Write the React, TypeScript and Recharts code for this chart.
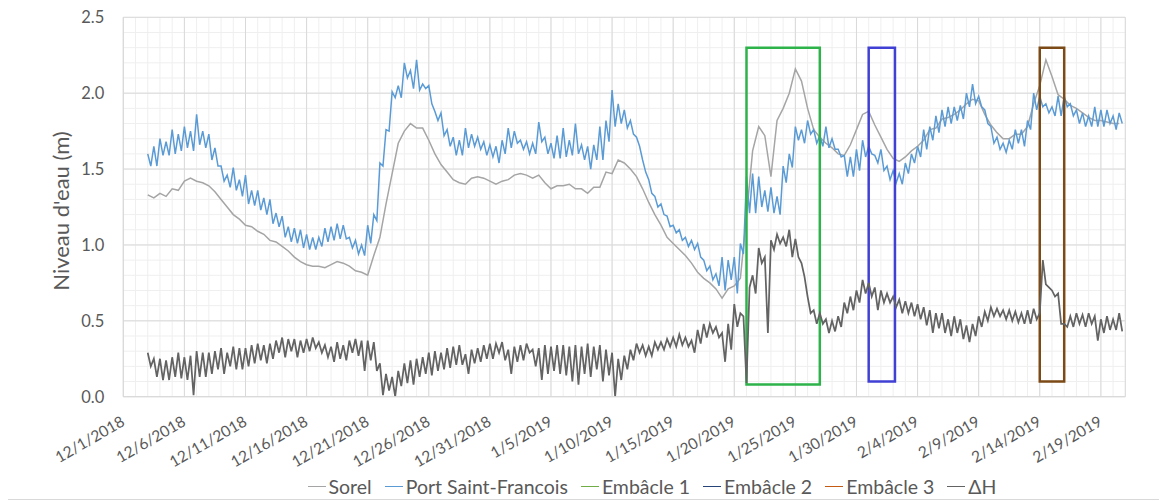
import React from 'react';
import { LineChart, Line, XAxis, YAxis, CartesianGrid, ReferenceLine } from 'recharts';

// Port Saint-Francois, every 6 h starting 12/3/2018 (day 2 after 12/1)
const portA = [
  1.60, 1.52, 1.65, 1.52, 1.70, 1.59, 1.68, 1.59, 1.76, 1.60, 1.73, 1.62, 1.78, 1.64, 1.75, 1.62,
  1.86, 1.66, 1.75, 1.64, 1.73, 1.56, 1.64, 1.52, 1.52, 1.42, 1.46, 1.38, 1.51, 1.36, 1.43, 1.32,
  1.46, 1.27, 1.36, 1.26, 1.36, 1.23, 1.31, 1.20, 1.30, 1.14, 1.21, 1.12, 1.19, 1.05, 1.12, 1.02,
  1.11, 1.01, 1.10, 0.98, 1.07, 0.97, 1.05, 0.97, 1.05, 0.99, 1.11, 1.02, 1.12, 1.03, 1.14, 1.04,
  1.13, 1.04, 1.05, 0.98, 1.03, 0.94, 1.00, 0.93, 1.13, 1.01, 1.20, 1.16, 1.54, 1.52, 1.76, 1.75,
];
const portB = [
  2.01, 1.97, 2.05, 1.97, 2.20, 2.10, 2.15, 2.03, 2.22, 2.02, 2.06, 2.03, 2.05, 1.93, 1.88, 1.82,
  1.87, 1.72, 1.76, 1.65, 1.71, 1.59, 1.69, 1.59, 1.77, 1.64, 1.73, 1.65, 1.71, 1.63, 1.68, 1.59,
  1.66, 1.58, 1.65, 1.54, 1.69, 1.60, 1.77, 1.64, 1.75, 1.67, 1.69, 1.63, 1.68, 1.60, 1.67, 1.60,
  1.81, 1.68, 1.71, 1.60, 1.67, 1.57, 1.72, 1.57, 1.77, 1.58, 1.69, 1.59, 1.80, 1.60, 1.66, 1.56,
  1.65, 1.50, 1.66, 1.56, 1.78, 1.56, 1.82, 1.68, 2.02, 1.78, 1.93, 1.80, 1.89, 1.77, 1.82, 1.73,
];
const portC = [
  1.71, 1.65, 1.56, 1.48, 1.43, 1.34, 1.32, 1.25, 1.27, 1.20, 1.19, 1.12, 1.13, 1.08, 1.10, 1.03,
  1.05, 0.99, 1.03, 0.97, 1.01, 0.92, 0.90, 0.83, 0.86, 0.77, 0.81, 0.73, 0.92, 0.70, 0.90, 0.77,
  0.92, 0.68, 1.01, 0.94, 1.45, 1.21, 1.47, 1.21, 1.45, 1.25, 1.36, 1.22, 1.38, 1.21, 1.32, 1.20,
  1.52, 1.41, 1.60, 1.51, 1.78, 1.69, 1.76, 1.67, 1.82, 1.73, 1.76, 1.67, 1.72, 1.65, 1.78, 1.64,
  1.70, 1.63, 1.63, 1.58, 1.59, 1.45, 1.58, 1.45, 1.63, 1.49, 1.69, 1.58, 1.65, 1.60, 1.59, 1.54,
];
const portD = [
  1.63, 1.49, 1.52, 1.43, 1.49, 1.41, 1.47, 1.40, 1.54, 1.47, 1.60, 1.54, 1.65, 1.58, 1.76, 1.63,
  1.78, 1.69, 1.85, 1.74, 1.89, 1.78, 1.91, 1.80, 1.91, 1.82, 1.92, 1.83, 2.00, 1.91, 2.06, 1.93,
  1.98, 1.91, 1.89, 1.80, 1.78, 1.67, 1.71, 1.63, 1.67, 1.61, 1.69, 1.63, 1.76, 1.67, 1.76, 1.65,
  1.82, 1.76, 2.00, 1.89, 1.98, 1.91, 1.93, 1.87, 1.91, 1.85, 1.98, 1.85, 1.98, 1.91, 1.93, 1.85,
  1.89, 1.80, 1.87, 1.78, 1.85, 1.78, 1.91, 1.78, 1.89, 1.78, 1.89, 1.80, 1.85, 1.76, 1.87, 1.80,
];

// Sorel, every 12 h starting 12/3/2018
const sorelA = [
  1.33, 1.31, 1.34, 1.32, 1.37, 1.36, 1.42, 1.44, 1.42, 1.41, 1.39, 1.35, 1.30, 1.25, 1.20, 1.17,
  1.13, 1.12, 1.09, 1.07, 1.03, 1.02, 0.99, 0.96, 0.92, 0.89, 0.87, 0.86, 0.86, 0.85, 0.87, 0.89,
  0.88, 0.86, 0.83, 0.82, 0.80, 0.93, 1.05, 1.27,
];
const sorelB = [
  1.47, 1.67, 1.75, 1.80, 1.77, 1.77, 1.69, 1.60, 1.53, 1.48, 1.43, 1.41, 1.40, 1.44, 1.45, 1.44,
  1.42, 1.40, 1.42, 1.43, 1.46, 1.47, 1.46, 1.44, 1.46, 1.41, 1.37, 1.39, 1.39, 1.40, 1.37, 1.37,
  1.34, 1.38, 1.38, 1.48, 1.47, 1.56, 1.54, 1.50,
];
const sorelC = [
  1.45, 1.37, 1.28, 1.20, 1.13, 1.05, 1.01, 0.97, 0.93, 0.88, 0.82, 0.78, 0.75, 0.71, 0.65, 0.71,
  0.73, 0.78, 1.19, 1.62, 1.78, 1.72, 1.45, 1.82, 1.90, 2.00, 2.16, 2.08, 1.90, 1.76, 1.71, 1.67,
  1.64, 1.60, 1.59, 1.66, 1.76, 1.86, 1.88, 1.79,
];
const sorelD = [
  1.71, 1.63, 1.57, 1.55, 1.58, 1.62, 1.65, 1.69, 1.76, 1.77, 1.83, 1.84, 1.86, 1.89, 1.93, 1.96,
  1.95, 1.86, 1.79, 1.74, 1.70, 1.70, 1.73, 1.73, 1.78, 1.93, 2.05, 2.22, 2.11, 1.99, 1.96, 1.92,
  1.90, 1.87, 1.84, 1.82, 1.82, 1.81, 1.80, 1.80,
];

// ΔH, every 6 h starting 12/3/2018
const deltaA = [
  0.29, 0.20, 0.25, 0.13, 0.25, 0.11, 0.24, 0.11, 0.26, 0.13, 0.29, 0.12, 0.26, 0.11, 0.27, 0.01,
  0.30, 0.13, 0.29, 0.13, 0.29, 0.15, 0.30, 0.18, 0.32, 0.15, 0.29, 0.20, 0.33, 0.18, 0.32, 0.18,
  0.32, 0.20, 0.34, 0.22, 0.35, 0.24, 0.34, 0.22, 0.35, 0.25, 0.37, 0.29, 0.39, 0.26, 0.38, 0.30,
  0.38, 0.26, 0.37, 0.29, 0.38, 0.30, 0.39, 0.32, 0.36, 0.29, 0.34, 0.26, 0.33, 0.23, 0.36, 0.25,
  0.34, 0.24, 0.37, 0.29, 0.38, 0.27, 0.37, 0.17, 0.37, 0.24, 0.36, 0.17, 0.22, 0.01, 0.15, 0.04,
];
const deltaB = [
  0.13, 0.00, 0.17, 0.07, 0.22, 0.09, 0.24, 0.08, 0.25, 0.13, 0.26, 0.15, 0.29, 0.14, 0.30, 0.17,
  0.29, 0.18, 0.32, 0.19, 0.33, 0.21, 0.34, 0.21, 0.28, 0.15, 0.31, 0.22, 0.32, 0.23, 0.34, 0.25,
  0.35, 0.25, 0.35, 0.29, 0.36, 0.24, 0.31, 0.15, 0.33, 0.23, 0.34, 0.24, 0.35, 0.29, 0.31, 0.20,
  0.32, 0.11, 0.34, 0.15, 0.33, 0.17, 0.34, 0.15, 0.34, 0.14, 0.33, 0.10, 0.34, 0.08, 0.33, 0.15,
  0.35, 0.13, 0.33, 0.18, 0.34, 0.10, 0.31, 0.14, 0.29, 0.00, 0.25, 0.11, 0.27, 0.18, 0.31, 0.24,
];
const deltaC = [
  0.35, 0.29, 0.34, 0.27, 0.33, 0.27, 0.36, 0.31, 0.36, 0.31, 0.38, 0.33, 0.39, 0.33, 0.41, 0.34,
  0.39, 0.33, 0.37, 0.29, 0.44, 0.35, 0.48, 0.39, 0.48, 0.42, 0.46, 0.39, 0.42, 0.23, 0.48, 0.31,
  0.61, 0.46, 0.55, 0.53, 0.09, 0.72, 0.80, 0.68, 0.98, 0.88, 0.92, 0.42, 1.03, 0.97, 1.07, 1.01,
  1.05, 0.99, 1.10, 0.92, 1.04, 0.92, 0.88, 0.79, 0.66, 0.55, 0.57, 0.48, 0.55, 0.48, 0.51, 0.42,
  0.50, 0.43, 0.53, 0.46, 0.62, 0.55, 0.66, 0.57, 0.70, 0.62, 0.77, 0.68, 0.75, 0.66, 0.72, 0.57,
];
const deltaD = [
  0.70, 0.62, 0.68, 0.62, 0.66, 0.59, 0.64, 0.55, 0.63, 0.55, 0.62, 0.53, 0.61, 0.51, 0.59, 0.47,
  0.57, 0.42, 0.55, 0.45, 0.55, 0.42, 0.51, 0.40, 0.53, 0.42, 0.51, 0.38, 0.47, 0.36, 0.48, 0.40,
  0.53, 0.46, 0.56, 0.50, 0.59, 0.53, 0.58, 0.53, 0.57, 0.51, 0.57, 0.50, 0.56, 0.49, 0.55, 0.48,
  0.57, 0.48, 0.58, 0.51, 0.55, 0.90, 0.74, 0.72, 0.70, 0.66, 0.68, 0.48, 0.48, 0.46, 0.53, 0.46,
  0.55, 0.48, 0.54, 0.46, 0.55, 0.48, 0.53, 0.37, 0.51, 0.42, 0.53, 0.44, 0.51, 0.44, 0.55, 0.43,
];

// ice jam windows: [start day, end day], [bottom, top] in metres
const embacle1Days = [51, 57];
const embacle1Levels = [0.08, 2.3];
const embacle2Days = [61, 63.15];
const embacle2Levels = [0.1, 2.3];
const embacle3Days = [75, 77];
const embacle3Levels = [0.1, 2.3];

const dateLabels = [
  '12/1/2018', '12/6/2018', '12/11/2018', '12/16/2018', '12/21/2018', '12/26/2018',
  '12/31/2018', '1/5/2019', '1/10/2019', '1/15/2019', '1/20/2019', '1/25/2019',
  '1/30/2019', '2/4/2019', '2/9/2019', '2/14/2019', '2/19/2019',
];
const majorDays = [0, 5, 10, 15, 20, 25, 30, 35, 40, 45, 50, 55, 60, 65, 70, 75, 80];
const levelTicks = [0, 0.5, 1, 1.5, 2, 2.5];
const minorDays = Array.from({ length: 83 }, (_, i) => i);
const minorLevels = Array.from({ length: 26 }, (_, i) => i / 10);

const FIRST_DAY = 2;

const toSeries = (values: number[], step: number) =>
  values.map((v, i) => ({ day: FIRST_DAY + i * step, v }));

const box = (days: number[], levels: number[]) => [
  { day: days[0], v: levels[0] },
  { day: days[0], v: levels[1] },
  { day: days[1], v: levels[1] },
  { day: days[1], v: levels[0] },
  { day: days[0], v: levels[0] },
];

const portData = toSeries([...portA, ...portB, ...portC, ...portD], 0.25);
const sorelData = toSeries([...sorelA, ...sorelB, ...sorelC, ...sorelD], 0.5);
const deltaData = toSeries([...deltaA, ...deltaB, ...deltaC, ...deltaD], 0.25);

const legendItems = [
  { name: 'Sorel', color: '#a5a5a5' },
  { name: 'Port Saint-Francois', color: '#5b9bd5' },
  { name: 'Embâcle 1', color: '#70ad47' },
  { name: 'Embâcle 2', color: '#264478' },
  { name: 'Embâcle 3', color: '#c55a11' },
  { name: 'ΔH', color: '#636363' },
];

const TEXT = '#595959';
const FONT = 'Lato, "Open Sans", sans-serif';

function DateTick({ x, y, payload }: any) {
  const label = dateLabels[majorDays.indexOf(payload.value)];
  const ax = x + 2.5;
  const ay = y + 28;
  return (
    <text
      x={ax}
      y={ay}
      textAnchor="end"
      fill={TEXT}
      fontSize={15.5}
      fontFamily={FONT}
      transform={`rotate(-30, ${ax}, ${ay})`}
    >
      {label}
    </text>
  );
}

export default function App() {
  return (
    <div
      style={{
        position: 'relative',
        width: 1157,
        height: 494,
        marginLeft: -3,
        marginTop: -2,
        border: '1px solid #d9d9d9',
        boxSizing: 'border-box',
        background: '#fff',
        fontFamily: FONT,
      }}
    >
      <LineChart width={1155} height={490} margin={{ top: 10.3, right: 35.7, bottom: 40.3, left: 0 }}>
        <CartesianGrid stroke="#efefef" verticalValues={minorDays} horizontalValues={minorLevels} />
        <CartesianGrid stroke="#d9d9d9" verticalValues={majorDays} horizontalValues={levelTicks} />
        <XAxis
          dataKey="day"
          type="number"
          domain={[0, 82]}
          ticks={majorDays}
          interval={0}
          allowDataOverflow
          height={60}
          tickLine={false}
          tickSize={0}
          tickMargin={0}
          axisLine={{ stroke: '#d9d9d9' }}
          tick={(props: any) => <DateTick {...props} />}
        />
        <YAxis
          type="number"
          domain={[0, 2.5]}
          ticks={levelTicks}
          interval={0}
          allowDataOverflow
          width={117.3}
          tickLine={false}
          tickSize={0}
          tickMargin={19}
          axisLine={{ stroke: '#d9d9d9' }}
          tick={{ fill: TEXT, fontSize: 16.5, fontFamily: FONT }}
          tickFormatter={(v: number) => v.toFixed(1)}
        />
        <ReferenceLine x={82} stroke="#d9d9d9" />
        <Line data={sorelData} dataKey="v" stroke="#a5a5a5" strokeWidth={1.5} dot={false} isAnimationActive={false} />
        <Line data={portData} dataKey="v" stroke="#5b9bd5" strokeWidth={1.5} dot={false} isAnimationActive={false} />
        <Line data={box(embacle1Days, embacle1Levels)} dataKey="v" stroke="#2db34a" strokeWidth={2.5} dot={false} strokeLinecap="square" isAnimationActive={false} />
        <Line data={box(embacle2Days, embacle2Levels)} dataKey="v" stroke="#4040d4" strokeWidth={2.5} dot={false} strokeLinecap="square" isAnimationActive={false} />
        <Line data={box(embacle3Days, embacle3Levels)} dataKey="v" stroke="#7b4a16" strokeWidth={2.5} dot={false} strokeLinecap="square" isAnimationActive={false} />
        <Line data={deltaData} dataKey="v" stroke="#636363" strokeWidth={1.75} dot={false} isAnimationActive={false} />
      </LineChart>

      <div
        style={{
          position: 'absolute',
          left: 55 - 100,
          top: 204 - 15,
          width: 200,
          height: 30,
          lineHeight: '30px',
          textAlign: 'center',
          transform: 'rotate(-90deg)',
          fontSize: 22,
          color: TEXT,
          whiteSpace: 'nowrap',
        }}
      >
        Niveau d'eau (m)
      </div>

      <div
        style={{
          position: 'absolute',
          left: 146,
          width: 1000,
          top: 466,
          height: 26,
          display: 'flex',
          justifyContent: 'center',
          alignItems: 'center',
          gap: 13,
          fontSize: 19.5,
          color: TEXT,
          whiteSpace: 'nowrap',
        }}
      >
        {legendItems.map((item) => (
          <div key={item.name} style={{ display: 'flex', alignItems: 'center' }}>
            <span style={{ display: 'inline-block', width: 18, height: 0, borderTop: `1.5px solid ${item.color}`, marginRight: 3 }} />
            <span>{item.name}</span>
          </div>
        ))}
      </div>
    </div>
  );
}
